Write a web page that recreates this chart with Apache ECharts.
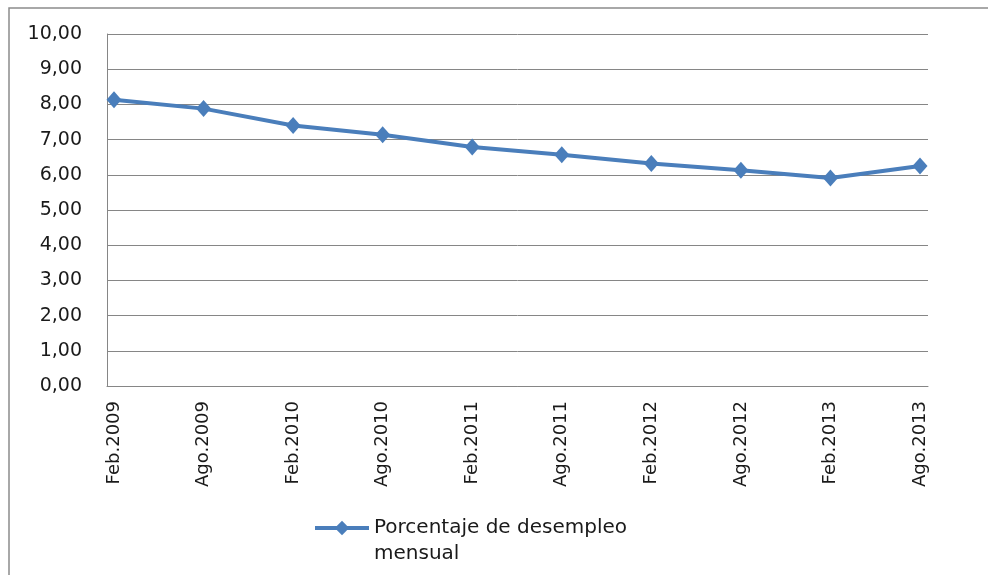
<!DOCTYPE html>
<html lang="es">
<head>
    <meta charset="UTF-8">
    <title>Porcentaje de desempleo mensual</title>
    <style>
        body,html{
            width: 988px;
            height: 575px;
            margin: 0;
            background: #fff;
        }
        #chart{
            width: 988px;
            height: 575px;
        }
    </style>
</head>
<body>
<div id="chart"></div>
<script src="https://cdn.jsdelivr.net/npm/echarts@6/dist/echarts.min.js"></script>
<script type="text/javascript">

    // datos
    const periodos = ["Feb.2009","Ago.2009","Feb.2010","Ago.2010","Feb.2011","Ago.2011","Feb.2012","Ago.2012","Feb.2013","Ago.2013"];
    const desempleo = [8.13, 7.88, 7.40, 7.14, 6.79, 6.57, 6.32, 6.13, 5.91, 6.25];
    const serieNombre = "Porcentaje de desempleo mensual";

    const azul = "#4a7ebb";
    const gris = "#868686";
    const texto = "#1a1a1a";
    const fuente = "DejaVu Sans";

    let myChart = echarts.init(document.getElementById("chart"));

    let option = {
        animation: false,
        backgroundColor: "#fff",
        textStyle: { fontFamily: fuente },
        //marco exterior
        graphic: [{
            type: "rect",
            shape: { x: 9, y: 8, width: 1100, height: 700 },
            style: { fill: "none", stroke: "#8c8c8c", lineWidth: 1.5 },
            silent: true
        }],
        grid: [
            { left: 107, right: 60, top: 34, bottom: 189 },   //area del grafico
            { left: 114, right: 68, top: 34, bottom: 189 }    //puntos de datos
        ],
        legend: {
            left: 313,
            top: 492,
            padding: 0,
            itemWidth: 54,
            itemHeight: 18,
            lineStyle: { width: 4 },
            //linea vacia arriba para que el icono quede a la altura de la primera linea
            formatter: function () {
                return "{e| }\n{a|Porcentaje de desempleo}\n{a|mensual}";
            },
            textStyle: {
                fontFamily: fuente,
                fontSize: 20,
                color: texto,
                rich: {
                    e: { lineHeight: 26, fontSize: 20 },
                    a: { lineHeight: 26, fontSize: 20, fontFamily: fuente, color: texto }
                }
            },
            data: [serieNombre]
        },
        xAxis: [
            {
                type: "category",
                gridIndex: 0,
                data: periodos,
                boundaryGap: false,
                axisLine: { lineStyle: { color: gris, width: 1 } },
                axisTick: { show: false },
                axisLabel: { show: false },
                splitLine: { show: false }
            },
            {
                type: "category",
                gridIndex: 1,
                data: periodos,
                boundaryGap: false,
                axisLine: { show: false },
                axisTick: { show: false },
                axisLabel: {
                    rotate: 90,
                    margin: 15,
                    fontFamily: fuente,
                    fontSize: 18,
                    color: texto,
                    interval: 0
                },
                splitLine: { show: false }
            }
        ],
        yAxis: [
            {
                type: "value",
                gridIndex: 0,
                min: 0,
                max: 10,
                interval: 1,
                axisLine: { show: true, lineStyle: { color: gris, width: 1 } },
                axisTick: { show: false },
                axisLabel: {
                    margin: 25,
                    fontFamily: fuente,
                    fontSize: 19,
                    color: texto,
                    formatter: function (v) {
                        return v.toFixed(2).replace(".", ",");
                    }
                },
                splitLine: { lineStyle: { color: gris, width: 1 } }
            },
            {
                type: "value",
                gridIndex: 1,
                min: 0,
                max: 10,
                interval: 1,
                axisLine: { show: false },
                axisTick: { show: false },
                axisLabel: { show: false },
                splitLine: { show: false }
            }
        ],
        series: [
            {
                name: serieNombre,
                type: "line",
                xAxisIndex: 1,
                yAxisIndex: 1,
                data: desempleo,
                symbol: "diamond",
                symbolSize: [15, 17],
                itemStyle: { color: azul },
                lineStyle: { color: azul, width: 4 }
            }
        ]
    };
    myChart.setOption(option);
</script>
</body>
</html>
